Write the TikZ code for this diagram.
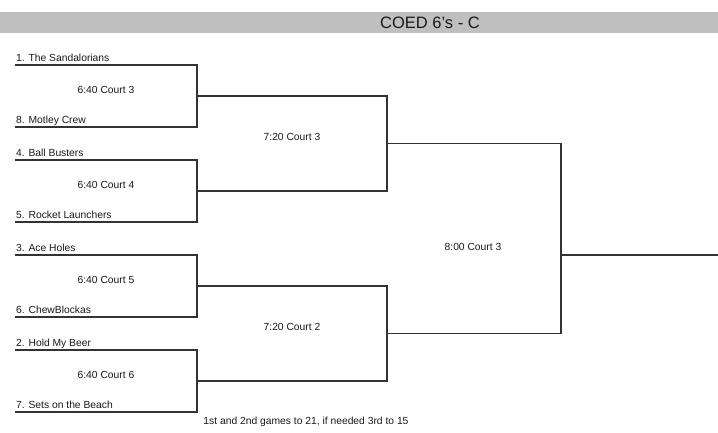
\documentclass[tikz,border=0pt]{standalone}
\usepackage{fontspec}
\setmainfont{Liberation Sans}
\begin{document}
\begin{tikzpicture}[x=1pt,y=-1pt,
  bracket/.style={draw=black!80,line width=1.2pt},
  team/.style={anchor=base west,inner sep=0pt,font=\fontsize{10.3}{12}\selectfont,text=black!90},
  game/.style={anchor=center,inner sep=0pt,font=\fontsize{10.3}{12}\selectfont,text=black!90},
  titletext/.style={anchor=center,inner sep=0pt,font=\fontsize{16.5}{19}\selectfont,text=black!90},
  note/.style={anchor=center,inner sep=0pt,font=\fontsize{10.3}{12}\selectfont,text=black!90}]
\useasboundingbox (0,0) rectangle (718,432);
\fill[white] (0,0) rectangle (718,432);
% title bar
\fill[black!25] (0,12) rectangle (718,33);
\node[titletext] (title) at (430,22.5) {COED 6's - C};

% round 1 coordinates
\foreach \i/\t/\b in {1/65/127,2/160/222,3/255/317,4/350/412}{
  \coordinate (t\i a) at (15,\t);
  \coordinate (t\i b) at (197,\t);
  \coordinate (b\i a) at (15,\b);
  \coordinate (b\i b) at (197,\b);
}
% round 2 coordinates
\coordinate (r2a) at (197,96);   \coordinate (r2ae) at (387,96);
\coordinate (r2b) at (197,191);  \coordinate (r2be) at (387,191);
\coordinate (r2c) at (197,286);  \coordinate (r2ce) at (387,286);
\coordinate (r2d) at (197,381);  \coordinate (r2de) at (387,381);
% round 3 coordinates
\coordinate (r3a) at (387,143.5); \coordinate (r3ae) at (561,143.5);
\coordinate (r3b) at (387,333.5); \coordinate (r3be) at (561,333.5);
\coordinate (w) at (561,255);     \coordinate (we) at (718,255);

% round 1 brackets
\foreach \i in {1,2,3,4}{
  \draw[bracket] (t\i a) -- (t\i b) -- (b\i b) -- (b\i a);
}
% round 2 brackets
\draw[bracket] (r2a) -- (r2ae) -- (r2be) -- (r2b);
\draw[bracket] (r2c) -- (r2ce) -- (r2de) -- (r2d);
% round 3 bracket
\draw[bracket] (r3a) -- (r3ae) -- (r3be) -- (r3b);
\draw[bracket] (w) -- (we);

% team names
\node[team] (n1) at (16,61) {1. The Sandalorians};
\node[team] (n8) at (16,123) {8. Motley Crew};
\node[team] (n4) at (16,156) {4. Ball Busters};
\node[team] (n5) at (16,218) {5. Rocket Launchers};
\node[team] (n3) at (16,251) {3. Ace Holes};
\node[team] (n6) at (16,313) {6. ChewBlockas};
\node[team] (n2) at (16,346) {2. Hold My Beer};
\node[team] (n7) at (16,408) {7. Sets on the Beach};

% game labels
\node[game] (g1) at (106,89.5) {6:40 Court 3};
\node[game] (g2) at (106,184.5) {6:40 Court 4};
\node[game] (g3) at (106,279.5) {6:40 Court 5};
\node[game] (g4) at (106,374.5) {6:40 Court 6};
\node[game] (g5) at (292,137) {7:20 Court 3};
\node[game] (g6) at (292,327) {7:20 Court 2};
\node[game] (g7) at (473,247) {8:00 Court 3};

% footnote
\node[note] (foot) at (306,422) {1st and 2nd games to 21, if needed 3rd to 15};
\end{tikzpicture}
\end{document}
